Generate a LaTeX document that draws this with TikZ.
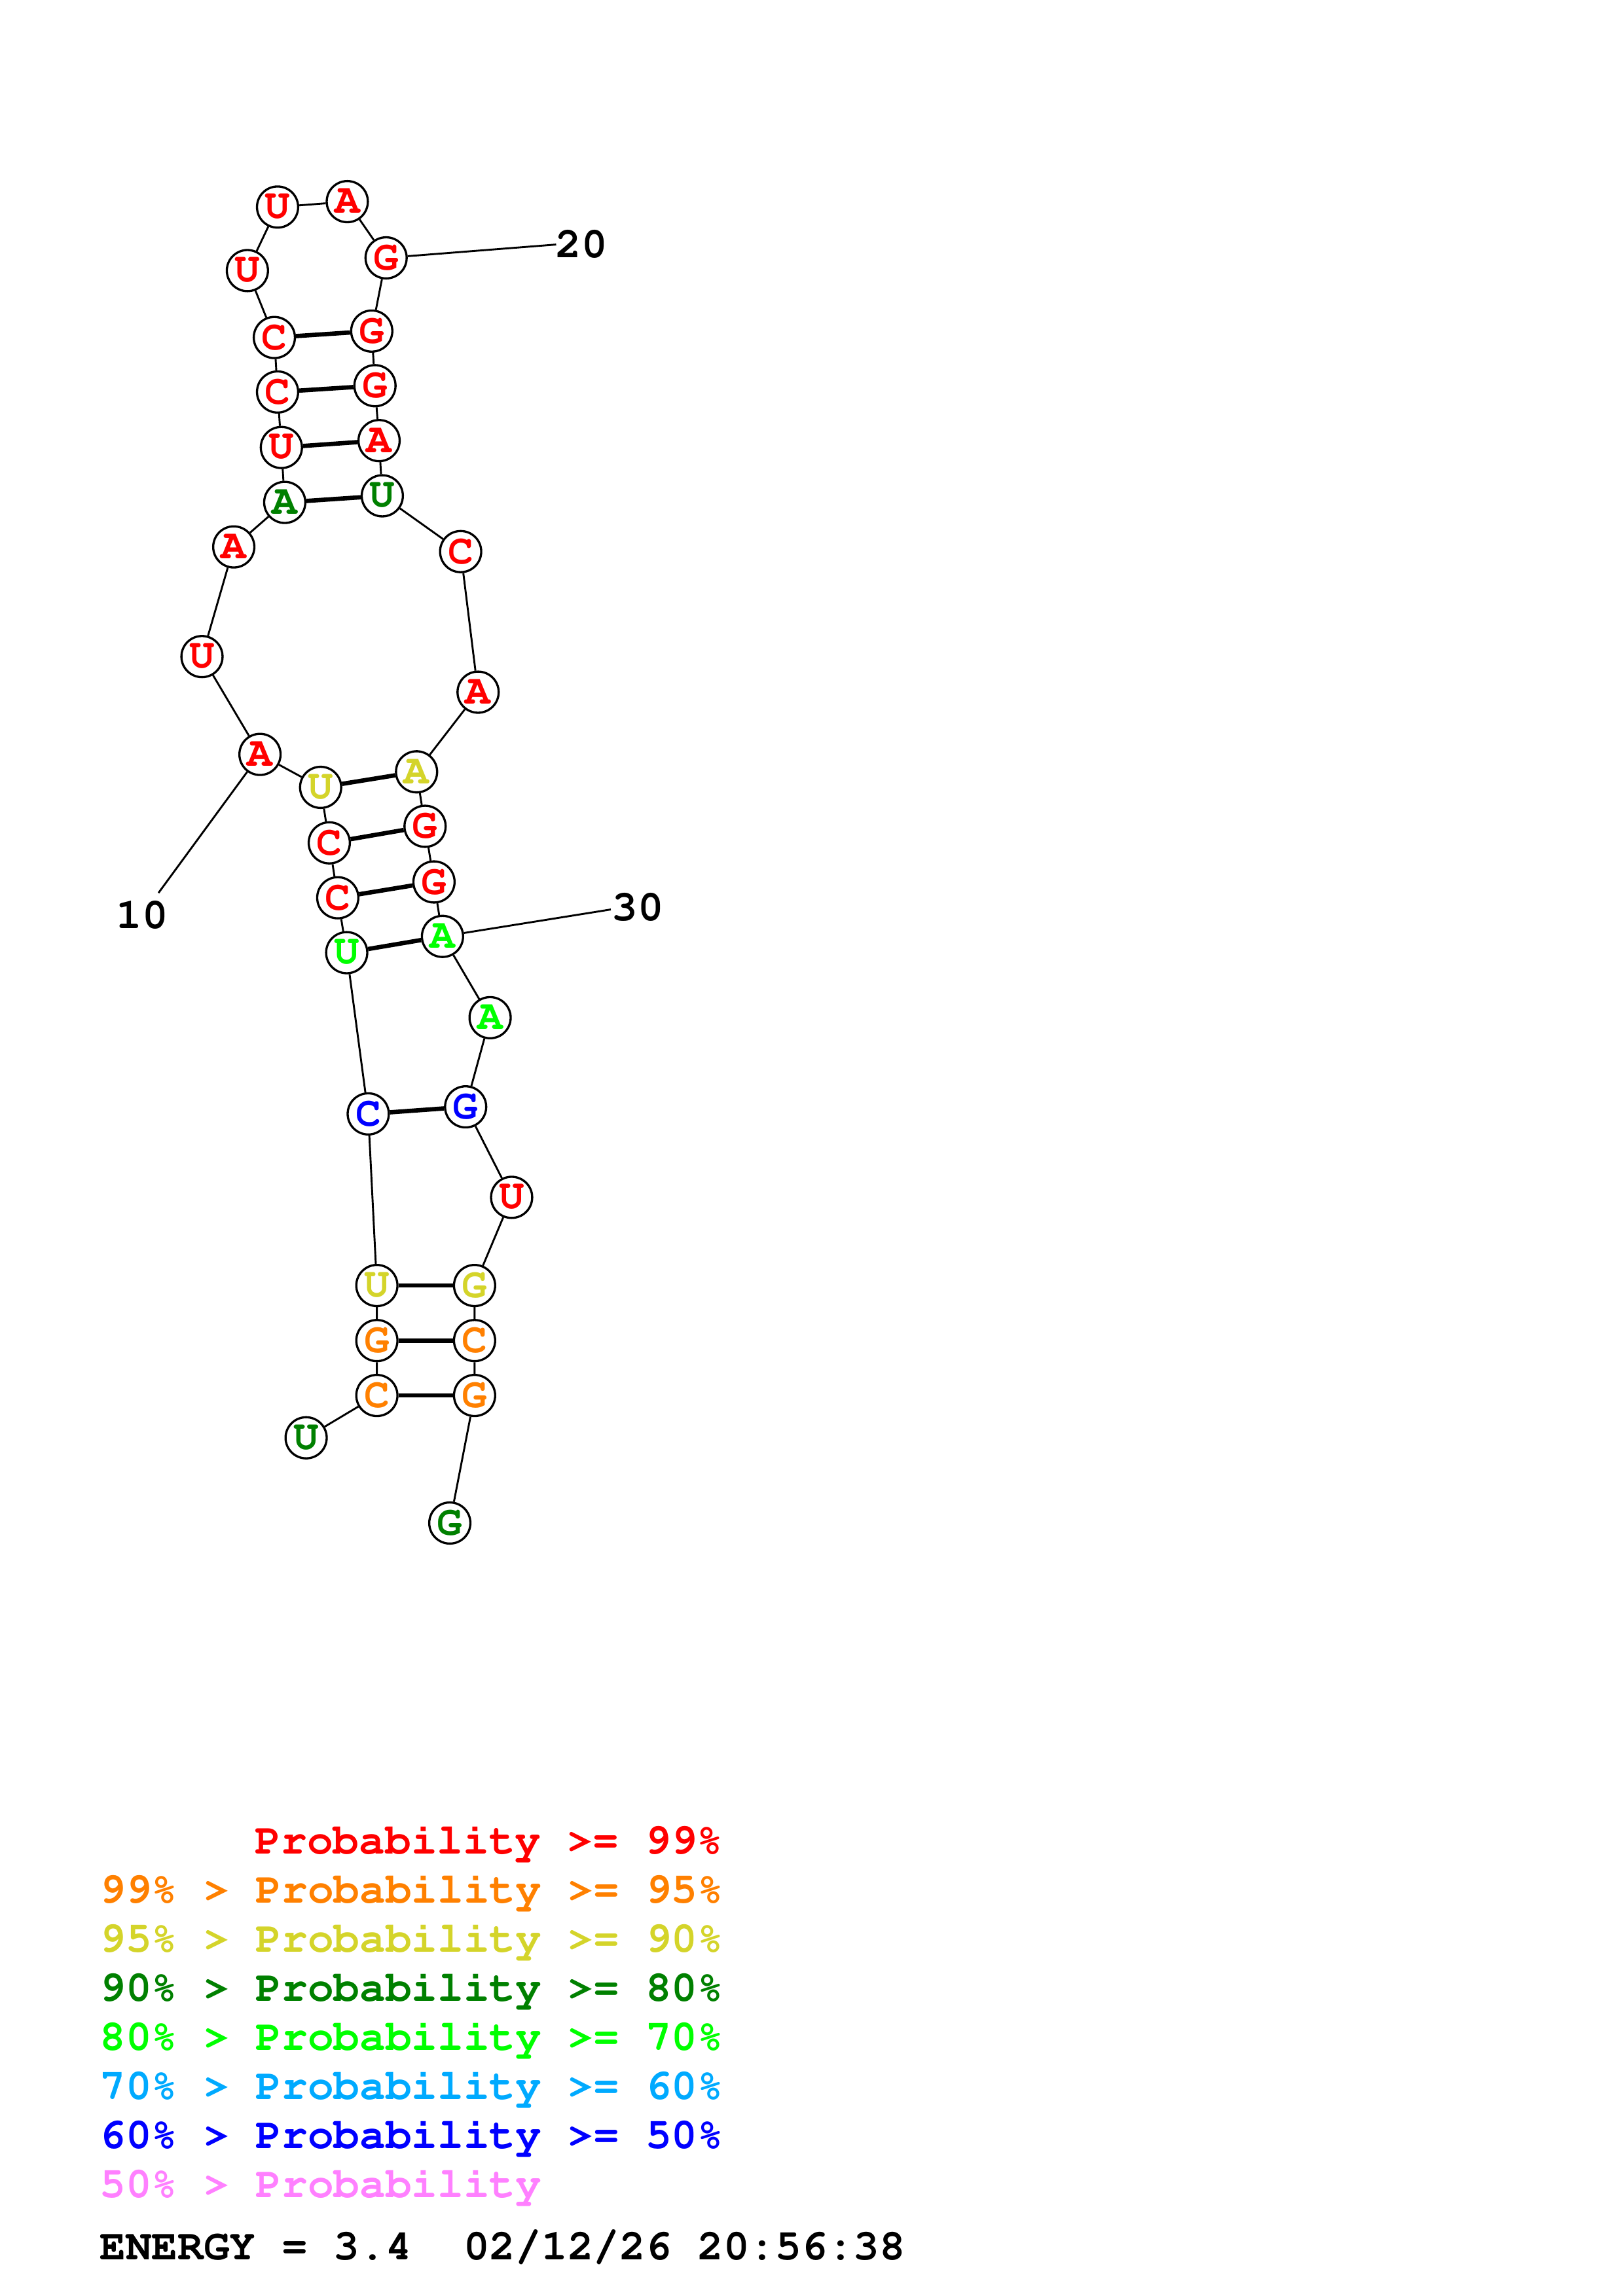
\documentclass[tikz,border=0pt]{standalone}
\usepackage[T1]{fontenc}
\usepackage{tikz}
\newcommand\courbold{\fontfamily{pcr}\fontseries{b}\selectfont}
\definecolor{pred}{RGB}{255,0,0}
\definecolor{porange}{RGB}{255,128,0}
\definecolor{pyellow}{RGB}{212,212,42}
\definecolor{pdgreen}{RGB}{0,128,0}
\definecolor{pgreen}{RGB}{0,255,0}
\definecolor{plblue}{RGB}{0,170,255}
\definecolor{pblue}{RGB}{0,0,255}
\definecolor{ppink}{RGB}{255,128,255}
\tikzset{nuc/.style = {draw, circle, fill = white, inner sep = 0, minimum size = 15.15pt,
    line width = 0.8pt, font = \courbold\fontsize{15.5}{15.5}\selectfont}}
\tikzset{bond/.style = {line width = 1.6pt}}
\tikzset{numlab/.style = {inner sep = 0, font = \courbold\fontsize{15.9}{16}\selectfont}}
\tikzset{leg/.style = {anchor = base west, inner sep = 0, font = \courbold\fontsize{15.95}{16}\selectfont}}

\begin{document}
\begin{tikzpicture}[x=0.189531mm, y=-0.189531mm, line width=0.7pt]
    \useasboundingbox (0,0) rectangle (1108,1568);
    % bases
    \node (nt1) at (209.0,981.9) [nuc, text=pdgreen] {U};
    \node (nt2) at (257.3,953.0) [nuc, text=porange] {C};
    \node (nt3) at (257.3,915.5) [nuc, text=porange] {G};
    \node (nt4) at (257.3,877.9) [nuc, text=pyellow] {U};
    \node (nt5) at (251.4,760.7) [nuc, text=pblue] {C};
    \node (nt6) at (236.7,650.6) [nuc, text=pgreen] {U};
    \node (nt7) at (230.6,613.1) [nuc, text=pred] {C};
    \node (nt8) at (224.8,575.6) [nuc, text=pred] {C};
    \node (nt9) at (218.9,537.7) [nuc, text=pyellow] {U};
    \node (nt10) at (177.5,515.2) [nuc, text=pred] {A};
    \node (nt11) at (137.9,448.4) [nuc, text=pred] {U};
    \node (nt12) at (159.6,373.5) [nuc, text=pred] {A};
    \node (nt13) at (194.4,343.1) [nuc, text=pdgreen] {A};
    \node (nt14) at (192.1,305.6) [nuc, text=pred] {U};
    \node (nt15) at (189.5,267.7) [nuc, text=pred] {C};
    \node (nt16) at (187.3,230.5) [nuc, text=pred] {C};
    \node (nt17) at (168.9,184.8) [nuc, text=pred] {U};
    \node (nt18) at (189.5,141.4) [nuc, text=pred] {U};
    \node (nt19) at (237.1,137.7) [nuc, text=pred] {A};
    \node (nt20) at (263.6,176.1) [nuc, text=pred] {G};
    \node (nt21) at (253.8,226.1) [nuc, text=pred] {G};
    \node (nt22) at (256.0,263.4) [nuc, text=pred] {G};
    \node (nt23) at (258.8,300.9) [nuc, text=pred] {A};
    \node (nt24) at (261.0,338.6) [nuc, text=pdgreen] {U};
    \node (nt25) at (314.5,376.7) [nuc, text=pred] {C};
    \node (nt26) at (326.4,472.7) [nuc, text=pred] {A};
    \node (nt27) at (284.4,527.1) [nuc, text=pyellow] {A};
    \node (nt28) at (290.2,564.3) [nuc, text=pred] {G};
    \node (nt29) at (296.3,602.3) [nuc, text=pred] {G};
    \node (nt30) at (302.1,639.5) [nuc, text=pgreen] {A};
    \node (nt31) at (334.6,695.0) [nuc, text=pgreen] {A};
    \node (nt32) at (317.9,755.9) [nuc, text=pblue] {G};
    \node (nt33) at (349.3,817.7) [nuc, text=pred] {U};
    \node (nt34) at (324.0,877.9) [nuc, text=pyellow] {G};
    \node (nt35) at (324.0,915.5) [nuc, text=porange] {C};
    \node (nt36) at (324.0,953.0) [nuc, text=porange] {G};
    \node (nt37) at (307.1,1040.1) [nuc, text=pdgreen] {G};
    % backbone
    \draw (nt1) -- (nt2) -- (nt3) -- (nt4) -- (nt5) -- (nt6) -- (nt7) -- (nt8) -- (nt9)
        -- (nt10) -- (nt11) -- (nt12) -- (nt13) -- (nt14) -- (nt15) -- (nt16) -- (nt17)
        -- (nt18) -- (nt19) -- (nt20) -- (nt21) -- (nt22) -- (nt23) -- (nt24) -- (nt25)
        -- (nt26) -- (nt27) -- (nt28) -- (nt29) -- (nt30) -- (nt31) -- (nt32) -- (nt33)
        -- (nt34) -- (nt35) -- (nt36) -- (nt37);
    % pairs
    \draw [bond] (nt2) -- (nt36);
    \draw [bond] (nt3) -- (nt35);
    \draw [bond] (nt4) -- (nt34);
    \draw [bond] (nt5) -- (nt32);
    \draw [bond] (nt6) -- (nt30);
    \draw [bond] (nt7) -- (nt29);
    \draw [bond] (nt8) -- (nt28);
    \draw [bond] (nt9) -- (nt27);
    \draw [bond] (nt13) -- (nt24);
    \draw [bond] (nt14) -- (nt23);
    \draw [bond] (nt15) -- (nt22);
    \draw [bond] (nt16) -- (nt21);
    % numbering
    \coordinate (end10) at (108.2,609.8);
    \coordinate (end20) at (379.7,167.0);
    \coordinate (end30) at (417.0,621.1);
    \node (lab10) at (97,625) [numlab] {10};
    \node (lab20) at (397,167) [numlab] {20};
    \node (lab30) at (435.5,619.5) [numlab] {30};
    \draw (nt10) -- (end10);
    \draw (nt20) -- (end20);
    \draw (nt30) -- (end30);
    % legend
    \node (leg1) at (173.6,1266) [leg, text=pred] {Probability >= 99\%};
    \node (leg2) at (67.5,1299.5) [leg, text=porange] {99\% > Probability >= 95\%};
    \node (leg3) at (67.5,1333) [leg, text=pyellow] {95\% > Probability >= 90\%};
    \node (leg4) at (67.5,1366.5) [leg, text=pdgreen] {90\% > Probability >= 80\%};
    \node (leg5) at (67.5,1400) [leg, text=pgreen] {80\% > Probability >= 70\%};
    \node (leg6) at (67.5,1433.5) [leg, text=plblue] {70\% > Probability >= 60\%};
    \node (leg7) at (67.5,1467) [leg, text=pblue] {60\% > Probability >= 50\%};
    \node (leg8) at (67.5,1500.5) [leg, text=ppink] {50\% > Probability};
    \node (energy) at (67.5,1543) [leg] {ENERGY = 3.4~~02/12/26 20:56:38};
\end{tikzpicture}
\end{document}
